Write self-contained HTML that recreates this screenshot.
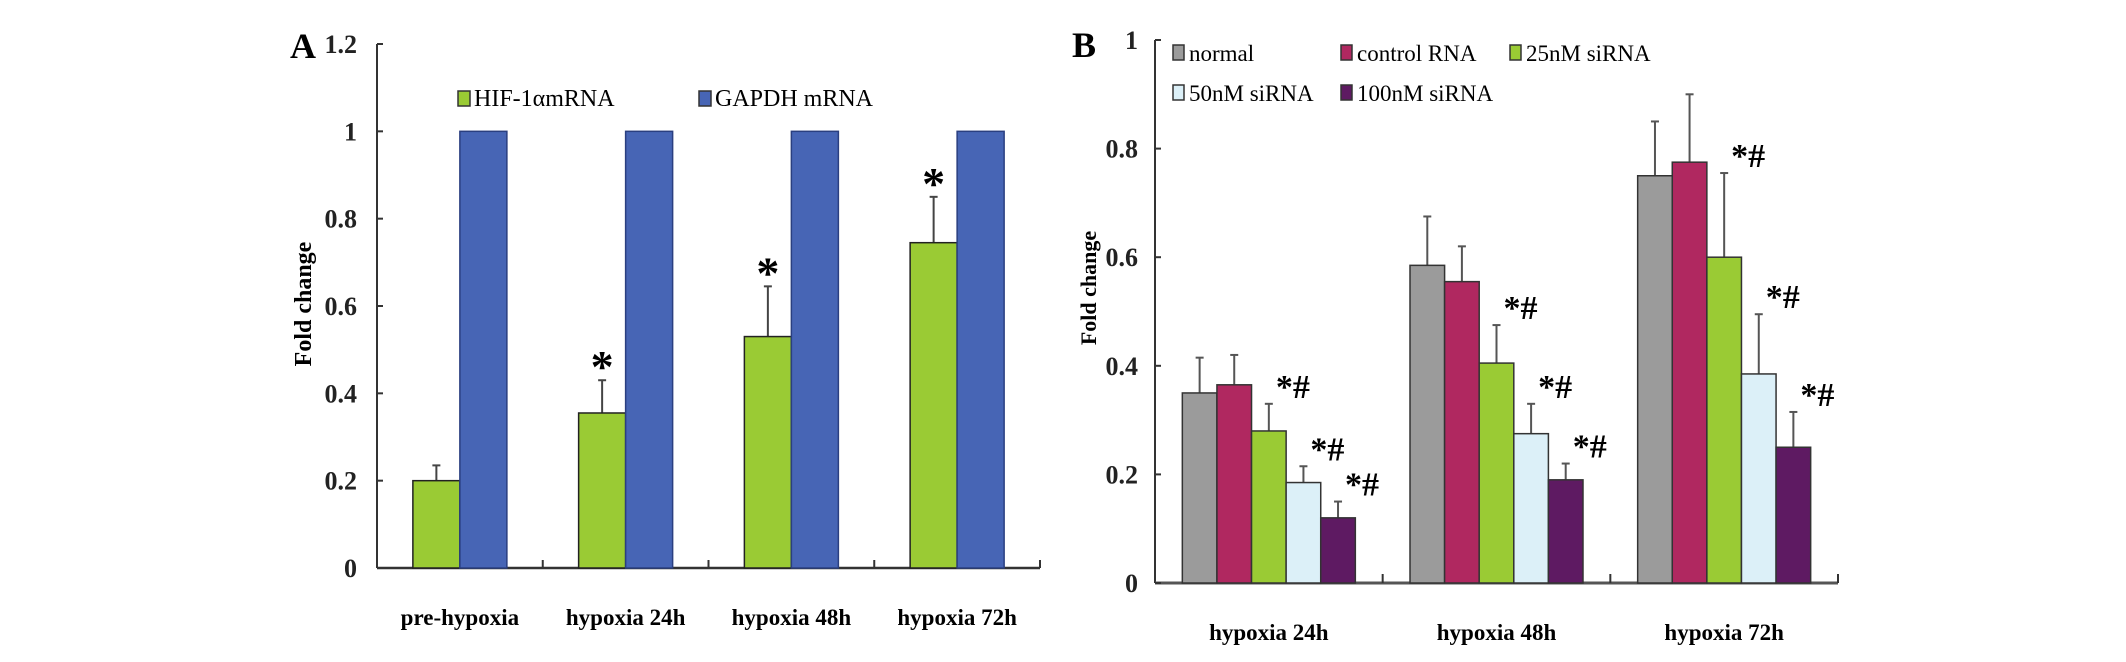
<!DOCTYPE html>
<html><head><meta charset="utf-8"><style>
html,body{margin:0;padding:0;background:#fff;}
svg{display:block;}
svg text{font-family:"Liberation Serif","DejaVu Serif",serif;}
</style></head><body>
<svg id="chart" width="2126" height="662" viewBox="0 0 2126 662" xmlns="http://www.w3.org/2000/svg"></svg>
<script>
// Panel A data
const catsA = ["pre-hypoxia","hypoxia 24h","hypoxia 48h","hypoxia 72h"];
const hifVals = [0.2,0.355,0.53,0.745];
const hifErr = [0.035,0.075,0.115,0.105];
const gapdhVals = [1,1,1,1];
const ticksA = [0,0.2,0.4,0.6,0.8,1,1.2];
const tickLabelsA = ["0","0.2","0.4","0.6","0.8","1","1.2"];
const starsA = [false,true,true,true];
// Panel B data
const catsB = ["hypoxia 24h","hypoxia 48h","hypoxia 72h"];
const seriesB = ["normal","control RNA","25nM siRNA","50nM siRNA","100nM siRNA"];
const normalVals = [0.35,0.585,0.75];
const controlVals = [0.365,0.555,0.775];
const si25Vals = [0.28,0.405,0.6];
const si50Vals = [0.185,0.275,0.385];
const si100Vals = [0.12,0.19,0.25];
const normalErr = [0.065,0.09,0.1];
const controlErr = [0.055,0.065,0.125];
const si25Err = [0.05,0.07,0.155];
const si50Err = [0.03,0.055,0.11];
const si100Err = [0.03,0.03,0.065];
const ticksB = [0,0.2,0.4,0.6,0.8,1];
const tickLabelsB = ["0","0.2","0.4","0.6","0.8","1"];

const NS="http://www.w3.org/2000/svg";
const svg=document.getElementById('chart');
const FONT='"Liberation Serif","DejaVu Serif",serif';
function mk(tag,attrs,parent){const e=document.createElementNS(NS,tag);for(const k in attrs)e.setAttribute(k,attrs[k]);(parent||svg).appendChild(e);return e;}
function txt(s,attrs,parent){const e=mk('text',attrs,parent);e.style.fontFamily=FONT;e.textContent=s;return e;}

// ---------- Panel A ----------
const A={x0:377,x1:1040,y0:568,yTop:44,max:1.2};
const yA=v=>A.y0-(v/A.max)*(A.y0-A.yTop);
const bandA=(A.x1-A.x0)/catsA.length;
const xA=i=>A.x0+bandA*(i+0.5);
const gA=mk('g',{});


const pl=txt("A",{x:290,y:58,'font-size':36,'font-weight':'bold'},gA);


const yaA=mk('line',{x1:A.x0,y1:A.yTop,x2:A.x0,y2:A.y0,stroke:'#333','stroke-width':2},gA);


const xaA=mk('line',{x1:A.x0,y1:A.y0,x2:A.x1,y2:A.y0,stroke:'#333','stroke-width':2.5},gA);


ticksA.forEach((t,i)=>{
  mk('line',{x1:A.x0,y1:yA(t),x2:A.x0+6,y2:yA(t),stroke:'#333','stroke-width':2},gA);
  const l=txt(tickLabelsA[i],{x:357,y:yA(t)+9,'font-size':26,'text-anchor':'end','font-weight':'bold',fill:'#222'},gA);
  
  
});
for(let i=1;i<=catsA.length;i++){mk('line',{x1:A.x0+bandA*i,y1:A.y0,x2:A.x0+bandA*i,y2:A.y0-8,stroke:'#333','stroke-width':2},gA);}
const ytA=txt("Fold change",{x:0,y:0,'font-size':24,'font-weight':'bold','text-anchor':'middle',transform:'translate(311,304) rotate(-90)'},gA);


const bw=47;
catsA.forEach((c,i)=>{
  const cx=xA(i);
  mk('line',{x1:cx-bw/2,y1:yA(hifVals[i]),x2:cx-bw/2,y2:yA(hifVals[i]+hifErr[i]),stroke:'#444','stroke-width':2},gA);
  mk('line',{x1:cx-bw/2-4,y1:yA(hifVals[i]+hifErr[i]),x2:cx-bw/2+4,y2:yA(hifVals[i]+hifErr[i]),stroke:'#444','stroke-width':2},gA);
  const b1=mk('rect',{x:cx-bw,y:yA(hifVals[i]),width:bw,height:A.y0-yA(hifVals[i]),fill:'#9acb34',stroke:'#222','stroke-width':1.5},gA);
  
  
  const b2=mk('rect',{x:cx,y:yA(gapdhVals[i]),width:bw,height:A.y0-yA(gapdhVals[i]),fill:'#4765b5',stroke:'#2a3f80','stroke-width':1.5},gA);
  
  
  if(starsA[i]){const s=txt("*",{x:cx-bw/2,y:yA(hifVals[i]+hifErr[i])+2,'font-size':46,'font-weight':'bold','text-anchor':'middle'},gA);
    
    }
  const xl=txt(c,{x:cx,y:625,'font-size':23,'font-weight':'bold','text-anchor':'middle'},gA);
  
  
});
const lgA=mk('g',{},gA);


mk('rect',{x:458,y:91,width:12,height:15,fill:'#9acb34',stroke:'#333','stroke-width':1.5},lgA);
const la1=txt("HIF-1αmRNA",{x:474,y:106,'font-size':24},lgA);


mk('rect',{x:699,y:91,width:12,height:15,fill:'#4765b5',stroke:'#333','stroke-width':1.5},lgA);
const la2=txt("GAPDH mRNA",{x:715,y:106,'font-size':24},lgA);



// ---------- Panel B ----------
const B={x0:1155,x1:1838,y0:583,yTop:40,max:1};
const yB=v=>B.y0-(v/B.max)*(B.y0-B.yTop);
const bandB=(B.x1-B.x0)/catsB.length;
const xB=i=>B.x0+bandB*(i+0.5);
const valsB=[normalVals,controlVals,si25Vals,si50Vals,si100Vals];
const errsB=[normalErr,controlErr,si25Err,si50Err,si100Err];
const colorsB=['#9b9b9b','#b02860','#9acb34','#dcf0f8','#5e1a62'];
const gB=mk('g',{});


const plb=txt("B",{x:1072,y:57,'font-size':36,'font-weight':'bold'},gB);


const yaB=mk('line',{x1:B.x0,y1:B.yTop,x2:B.x0,y2:B.y0,stroke:'#333','stroke-width':2},gB);


const xaB=mk('line',{x1:B.x0,y1:B.y0,x2:B.x1,y2:B.y0,stroke:'#555','stroke-width':3},gB);


ticksB.forEach((t,i)=>{
  mk('line',{x1:B.x0,y1:yB(t),x2:B.x0+6,y2:yB(t),stroke:'#333','stroke-width':2},gB);
  const l=txt(tickLabelsB[i],{x:1138,y:yB(t)+9,'font-size':26,'text-anchor':'end','font-weight':'bold',fill:'#222'},gB);
  
  
});
for(let i=1;i<=catsB.length;i++){mk('line',{x1:B.x0+bandB*i,y1:B.y0,x2:B.x0+bandB*i,y2:B.y0-9,stroke:'#333','stroke-width':2},gB);}
const ytB=txt("Fold change",{x:0,y:0,'font-size':22,'font-weight':'bold','text-anchor':'middle',transform:'translate(1096,288) rotate(-90)'},gB);


const bwB=34.6;
catsB.forEach((c,i)=>{
  const start=xB(i)-bwB*2.5;
  for(let s=0;s<seriesB.length;s++){
    const v=valsB[s][i], e=errsB[s][i], x=start+s*bwB, cx=x+bwB/2;
    mk('line',{x1:cx,y1:yB(v),x2:cx,y2:yB(v+e),stroke:'#555','stroke-width':2},gB);
    mk('line',{x1:cx-4,y1:yB(v+e),x2:cx+4,y2:yB(v+e),stroke:'#555','stroke-width':2},gB);
    const r=mk('rect',{x:x,y:yB(v),width:bwB,height:B.y0-yB(v),fill:colorsB[s],stroke:'#333','stroke-width':1.5},gB);
    
    
    if(s>=2){
      const st=txt("*#",{x:cx+24,y:yB(v+e)-6,'font-size':34,'font-weight':'bold','text-anchor':'middle'},gB);
      
      
    }
  }
  const xl=txt(c,{x:xB(i),y:640,'font-size':23,'font-weight':'bold','text-anchor':'middle'},gB);
  
  
});
const lgB=mk('g',{},gB);


const legPos=[[1173,53],[1341,53],[1510,53],[1173,93],[1341,93]];
seriesB.forEach((s,i)=>{
  const [lx,ly]=legPos[i];
  mk('rect',{x:lx,y:ly-8,width:11,height:15,fill:colorsB[i],stroke:'#333','stroke-width':1.5},lgB);
  const t=txt(s,{x:lx+16,y:ly+8,'font-size':23},lgB);
  
  
});
</script>
</body></html>
